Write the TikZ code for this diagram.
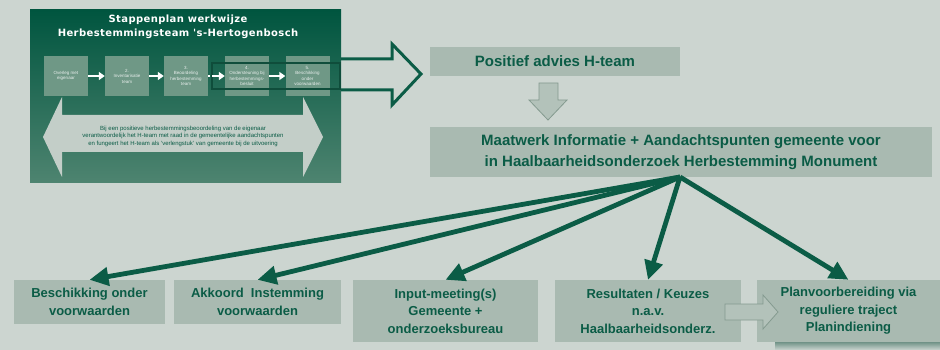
\documentclass[tikz,border=0pt]{standalone}
\usepackage{fontspec}
\setmainfont{Liberation Sans}
\newfontfamily\titlefont[LetterSpace=4]{DejaVu Sans}
\usetikzlibrary{arrows.meta}
\definecolor{bgc}{HTML}{CCD5D0}
\definecolor{dkg}{HTML}{0B5C46}
\definecolor{framec}{HTML}{0F4D3B}
\definecolor{boxc}{HTML}{A9BAB1}
\definecolor{paneltop}{HTML}{00553F}
\definecolor{panelbot}{HTML}{4E8470}
\definecolor{smallbox}{HTML}{6F9886}
\definecolor{dblc}{HTML}{C3CEC8}
\definecolor{blockc}{HTML}{B3C2BA}
\definecolor{blockline}{HTML}{849A8F}
\tikzset{
  infobox/.style={fill=boxc, draw=none, text=dkg, align=center, inner sep=2pt,
    font=\bfseries\fontsize{13}{17.5}\selectfont},
  smallstep/.style={fill=smallbox, draw=none, minimum width=44pt, minimum height=40pt,
    text=white!85!smallbox, align=center, inner sep=1pt, font=\fontsize{4.5}{5.5}\selectfont},
  whitearrow/.style={white, line width=2.2pt, -{Triangle[length=6pt,width=8pt]}},
  hubarrow/.style={dkg, line width=4.8pt, -{Triangle[length=19pt,width=18pt]}},
  blockarrow/.style={fill=blockc, draw=blockline, line width=0.8pt, line join=miter}
}
\begin{document}
\begin{tikzpicture}[x=1pt,y=-1pt]
\fill[bgc] (0,0) rectangle (940,350);
\useasboundingbox (0,0) rectangle (940,350);
% panel
\node[top color=paneltop, bottom color=panelbot, minimum width=311pt, minimum height=173pt, inner sep=0pt] (panel) at (185.5,96.5) {};
\node[text=white, align=center, font=\titlefont\bfseries\fontsize{10}{14}\selectfont] (title) at (178,27) {Stappenplan werkwijze\\Herbestemmingsteam 's-Hertogenbosch};
\node[smallstep] (s1) at (66,76) {Overleg met\\eigenaar};
\node[smallstep] (s2) at (127,76) {2.\\Inventarisatie\\team};
\node[smallstep] (s3) at (186,76) {3.\\Beoordeling\\herbestemming\\team};
\node[smallstep] (s4) at (247,76) {4.\\Ondersteuning bij\\herbestemmings-\\besluit};
\node[smallstep] (s5) at (307.5,76) {5.\\Beschikking\\onder\\voorwaarden};
\draw[framec, line width=2.5pt] (212,63) rectangle (340,89);
\draw[whitearrow] (s1) -- (s2);
\draw[whitearrow] (s2) -- (s3);
\draw[whitearrow, dash pattern=on 2pt off 2pt on 30pt] (s3) -- (s4);
\draw[whitearrow] (s4) -- (s5);
% double arrow
\fill[dblc] (43,137) -- (62,97) -- (62,115) -- (303,115) -- (303,97) -- (323,137) -- (303,177) -- (303,152) -- (62,152) -- (62,177) -- cycle;
\node[text=dkg, align=center, font=\fontsize{6}{7.5}\selectfont] (dbltext) at (183,136) {Bij een positieve herbestemmingsbeoordeling van de eigenaar\\verantwoordelijk het H-team met raad in de gemeentelijke aandachtspunten\\en fungeert het H-team als 'verlengstuk' van gemeente bij de uitvoering};
% big hollow arrow
\draw[dkg, line width=3pt, line join=miter] (341,59) -- (392,59) -- (392,44) -- (421,74) -- (392,105) -- (392,90) -- (341,90);
% main boxes
\node[infobox, minimum width=250pt, minimum height=29pt, font=\bfseries\fontsize{15}{20}\selectfont] (pos) at (555,61.5) {Positief advies H-team};
\draw[blockarrow] (539,83) -- (558,83) -- (558,100) -- (567,100) -- (548,120) -- (529,100) -- (539,100) -- cycle;
\node[infobox, minimum width=502pt, minimum height=50pt, font=\bfseries\fontsize{15}{21.5}\selectfont] (mw) at (681,152) {Maatwerk Informatie + Aandachtspunten gemeente voor\\in Haalbaarheidsonderzoek Herbestemming Monument};
% bottom boxes
\node[infobox, minimum width=151pt, minimum height=44pt] (b1) at (89.5,302) {Beschikking onder\\voorwaarden};
\node[infobox, minimum width=167pt, minimum height=44pt] (b2) at (257.5,302) {Akkoord\ \ Instemming\\voorwaarden};
\node[infobox, minimum width=185pt, minimum height=62pt] (b3) at (445.5,311) {Input-meeting(s)\\Gemeente +\\onderzoeksbureau};
\node[infobox, minimum width=186pt, minimum height=62pt] (b4) at (648,311) {Resultaten / Keuzes\\n.a.v.\\Haalbaarheidsonderz.};
\shade[top color=framec!55!bgc, bottom color=bgc] (775,341) rectangle (940,350);
\node[infobox, minimum width=183pt, minimum height=62pt] (b5) at (848.5,311) {Planvoorbereiding via\\reguliere traject\\Planindiening};
\draw[blockarrow] (725,304) -- (763,304) -- (763,295) -- (778,312) -- (763,329) -- (763,320) -- (725,320) -- cycle;
% hub arrows
\coordinate (hub) at (680,177);
\draw[hubarrow] (hub) -- (b1.north);
\draw[hubarrow] (hub) -- (b2.north);
\draw[hubarrow] (hub) -- (b3.north);
\draw[hubarrow] (hub) -- (b4.north);
\draw[hubarrow] (hub) -- (b5.north);
\end{tikzpicture}
\end{document}
